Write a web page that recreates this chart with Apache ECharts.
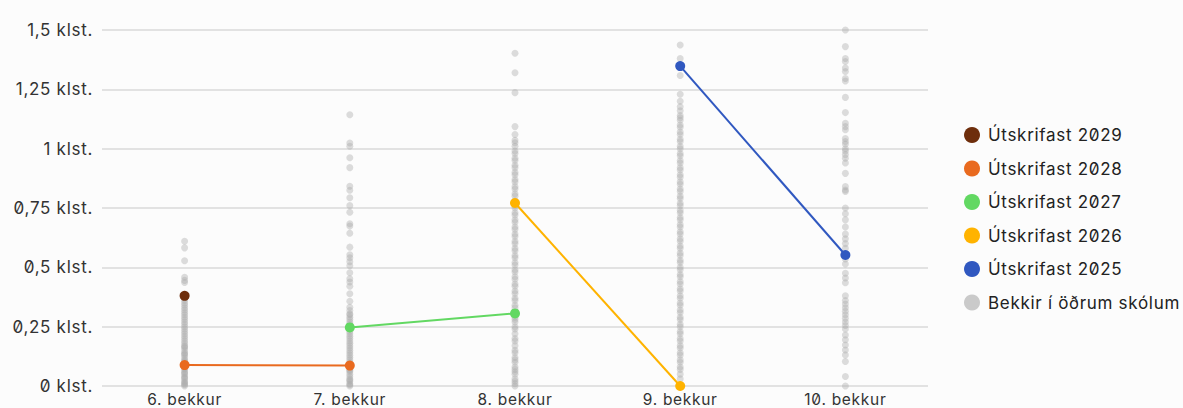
<!DOCTYPE html>
<html>
<head>
<meta charset="utf-8">
<script src="https://cdn.jsdelivr.net/npm/echarts@6/dist/echarts.min.js"></script>
<style>
  html, body { margin: 0; padding: 0; background: #fcfcfc; }
  #chart { width: 1183px; height: 408px; }
  #chart text { font-feature-settings: "zero" 1; letter-spacing: 0.7px; }
</style>
</head>
<body>
<div id="chart"></div>
<script>
const categories = ['6. bekkur', '7. bekkur', '8. bekkur', '9. bekkur', '10. bekkur'];
const yTicks = [0, 0.25, 0.5, 0.75, 1, 1.25, 1.5];

const cohort2029 = [0.38, null, null, null, null];
const cohort2028 = [0.088, 0.086, null, null, null];
const cohort2027 = [null, 0.247, 0.306, null, null];
const cohort2026 = [null, null, 0.771, 0, null];
const cohort2025 = [null, null, null, 1.348, 0.552];

const others6 = [0, 0.005, 0.01, 0.015, 0.02, 0.03, 0.035, 0.04, 0.05, 0.055, 0.06, 0.07, 0.075, 0.08, 0.09, 0.1, 0.105, 0.11, 0.12, 0.13, 0.135, 0.14, 0.15, 0.16, 0.165, 0.17, 0.18, 0.19, 0.2, 0.21, 0.22, 0.23, 0.24, 0.25, 0.26, 0.27, 0.28, 0.29, 0.3, 0.31, 0.32, 0.33, 0.34, 0.35, 0.36, 0.37, 0.436, 0.445, 0.458, 0.528, 0.582, 0.61];
const others7 = [0, 0.005, 0.01, 0.02, 0.025, 0.03, 0.04, 0.05, 0.06, 0.065, 0.07, 0.08, 0.1, 0.11, 0.12, 0.13, 0.14, 0.15, 0.16, 0.17, 0.18, 0.19, 0.2, 0.21, 0.22, 0.23, 0.24, 0.26, 0.27, 0.28, 0.29, 0.3, 0.304, 0.318, 0.332, 0.357, 0.389, 0.42, 0.438, 0.452, 0.477, 0.507, 0.524, 0.54, 0.553, 0.585, 0.644, 0.674, 0.684, 0.732, 0.76, 0.793, 0.825, 0.842, 0.92, 0.962, 1.01, 1.024, 1.143];
const others8 = [0, 0.01, 0.02, 0.03, 0.05, 0.06, 0.07, 0.08, 0.1, 0.11, 0.12, 0.14, 0.15, 0.17, 0.19, 0.2, 0.22, 0.24, 0.25, 0.27, 0.28, 0.29, 0.31, 0.33, 0.34, 0.36, 0.37, 0.39, 0.4, 0.42, 0.43, 0.45, 0.46, 0.48, 0.49, 0.51, 0.52, 0.54, 0.55, 0.57, 0.58, 0.6, 0.61, 0.63, 0.64, 0.66, 0.67, 0.69, 0.7, 0.72, 0.73, 0.75, 0.76, 0.78, 0.8, 0.81, 0.83, 0.84, 0.86, 0.87, 0.89, 0.9, 0.92, 0.93, 0.95, 0.96, 0.98, 0.99, 1.01, 1.025, 1.035, 1.06, 1.093, 1.236, 1.32, 1.402];
const others9 = [0.03, 0.05, 0.07, 0.08, 0.1, 0.11, 0.13, 0.14, 0.16, 0.17, 0.19, 0.2, 0.22, 0.23, 0.25, 0.26, 0.28, 0.29, 0.31, 0.32, 0.34, 0.35, 0.37, 0.38, 0.4, 0.41, 0.43, 0.44, 0.46, 0.47, 0.49, 0.5, 0.52, 0.53, 0.55, 0.56, 0.58, 0.59, 0.61, 0.62, 0.64, 0.65, 0.67, 0.68, 0.7, 0.71, 0.73, 0.74, 0.76, 0.77, 0.79, 0.8, 0.82, 0.83, 0.85, 0.86, 0.88, 0.89, 0.91, 0.92, 0.94, 0.95, 0.97, 0.98, 1.0, 1.01, 1.03, 1.04, 1.06, 1.07, 1.09, 1.1, 1.12, 1.13, 1.14, 1.16, 1.177, 1.2, 1.229, 1.308, 1.38, 1.437];
const others10 = [0, 0.04, 0.103, 0.131, 0.152, 0.173, 0.195, 0.215, 0.24, 0.255, 0.27, 0.285, 0.3, 0.315, 0.33, 0.345, 0.36, 0.38, 0.435, 0.455, 0.475, 0.514, 0.535, 0.58, 0.6, 0.62, 0.64, 0.67, 0.7, 0.726, 0.75, 0.82, 0.826, 0.84, 0.896, 0.94, 0.96, 0.975, 0.99, 1.0, 1.02, 1.03, 1.043, 1.08, 1.093, 1.107, 1.152, 1.216, 1.285, 1.296, 1.325, 1.34, 1.367, 1.38, 1.43, 1.5, 1.514, 1.528];

const othersByCategory = [others6, others7, others8, others9, others10];
const scatterData = [];
othersByCategory.forEach((vals, i) => vals.forEach(v => scatterData.push([categories[i], v])));

const FONT = 'Inter, "Noto Sans", sans-serif';
const cohorts = [
  { name: 'Útskrifast 2029', data: cohort2029, color: '#6e2e0c' },
  { name: 'Útskrifast 2028', data: cohort2028, color: '#e96a1f' },
  { name: 'Útskrifast 2027', data: cohort2027, color: '#62d862' },
  { name: 'Útskrifast 2026', data: cohort2026, color: '#ffb300' },
  { name: 'Útskrifast 2025', data: cohort2025, color: '#3058c0' }
];
const othersName = 'Bekkir í öðrum skólum';

const chart = echarts.init(document.getElementById('chart'), null, { renderer: 'svg' });
chart.setOption({
  backgroundColor: '#fcfcfc',
  animation: false,
  grid: { left: 102, right: 255, top: 30, bottom: 22, outerBoundsMode: 'none', containLabel: false },
  legend: {
    orient: 'vertical',
    left: 959,
    top: 120,
    itemGap: 13.5,
    itemWidth: 16,
    itemHeight: 16,
    icon: 'circle',
    textStyle: { fontFamily: FONT, fontSize: 17, lineHeight: 20, color: '#222', padding: [0, 0, 0, 3] },
    data: cohorts.map(c => ({ name: c.name })).concat([{ name: othersName, itemStyle: { color: '#bdbdbd' } }])
  },
  xAxis: {
    type: 'category',
    data: categories,
    boundaryGap: true,
    axisLine: { show: false },
    axisTick: { show: false },
    axisLabel: { margin: 5, fontFamily: FONT, fontSize: 15.5, lineHeight: 16, color: '#333' }
  },
  yAxis: {
    type: 'value',
    min: 0,
    max: 1.5,
    interval: 0.25,
    axisLine: { show: false },
    axisTick: { show: false },
    splitLine: { lineStyle: { color: '#dadada', width: 1.5 } },
    axisLabel: {
      margin: 9,
      fontFamily: FONT,
      fontSize: 17,
      color: '#333',
      formatter: v => String(v).replace('.', ',') + ' klst.'
    }
  },
  series: cohorts.map(c => ({
    name: c.name,
    type: 'line',
    data: c.data,
    color: c.color,
    symbol: 'circle',
    symbolSize: 10,
    lineStyle: { width: 2, color: c.color },
    itemStyle: { color: c.color },
    z: 3
  })).concat([{
    name: othersName,
    type: 'scatter',
    data: scatterData,
    symbolSize: 7,
    itemStyle: { color: 'rgba(170,170,170,0.5)' },
    z: 1
  }])
});
</script>
</body>
</html>
